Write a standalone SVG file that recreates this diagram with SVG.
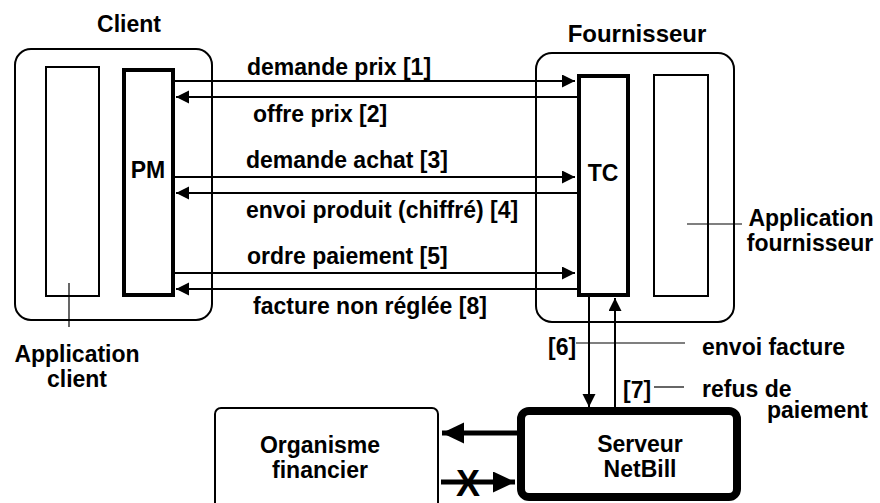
<svg xmlns="http://www.w3.org/2000/svg" width="880" height="503" viewBox="0 0 880 503">
<style>
text{font-family:"Liberation Sans",Arial,sans-serif;font-weight:bold;font-size:23px;fill:#000}
.mid{text-anchor:middle}
.box{fill:#fff;stroke:#000;stroke-width:2}
.thick{fill:#fff;stroke:#000;stroke-width:4}
.ln{stroke:#000;stroke-width:2;fill:none}
.thin{stroke:#000;stroke-width:1.2;fill:none}
.big{stroke:#000;stroke-width:5;fill:none}
</style>
<defs>
<marker id="ah" markerUnits="userSpaceOnUse" markerWidth="14" markerHeight="14" refX="13" refY="6.5" orient="auto">
<path d="M0,0 L13,6.5 L0,13 Z" fill="#000"/>
</marker>
<marker id="ahb" markerUnits="userSpaceOnUse" markerWidth="24" markerHeight="22" refX="22" refY="10.5" orient="auto">
<path d="M0,0 L22,10.5 L0,21 Z" fill="#000"/>
</marker>
</defs>
<rect width="880" height="503" fill="#fff"/>

<g id="client">
<text class="mid" x="129" y="32">Client</text>
<rect class="box" x="15" y="49" width="197" height="271" rx="16"/>
</g>
<g id="fournisseur">
<text class="mid" x="637" y="42" style="font-size:24px">Fournisseur</text>
<rect class="box" x="536" y="53" width="198" height="269" rx="16"/>
</g>
<g id="app-client">
<rect class="box" x="46" y="67" width="53" height="229"/>
<line class="thin" x1="69" y1="283" x2="69" y2="327"/>
<text class="mid" x="77" y="362">Application</text>
<text class="mid" x="77" y="387">client</text>
</g>
<g id="pm">
<rect class="thick" x="124" y="70" width="49" height="225"/>
<text class="mid" x="148" y="178">PM</text>
</g>
<g id="tc">
<rect class="thick" x="579" y="76" width="49" height="219"/>
<text class="mid" x="603" y="181">TC</text>
</g>
<g id="app-fournisseur">
<rect class="box" x="654" y="75" width="54" height="221"/>
<line class="thin" x1="687" y1="224" x2="742" y2="224"/>
<text class="mid" x="811" y="226">Application</text>
<text class="mid" x="810" y="251">fournisseur</text>
</g>
<g id="organisme">
<rect class="box" x="215" y="408" width="223" height="110" rx="6"/>
<text class="mid" x="320" y="453">Organisme</text>
<text class="mid" x="320" y="478">financier</text>
</g>
<g id="serveur">
<rect x="521" y="411" width="216" height="86" rx="8" fill="#fff" stroke="#000" stroke-width="8"/>
<text class="mid" x="640" y="452">Serveur</text>
<text class="mid" x="640" y="477">NetBill</text>
</g>

<g id="connectors">
<line class="ln" x1="175" y1="81" x2="575" y2="81" marker-end="url(#ah)"/>
<line class="ln" x1="577" y1="97" x2="176" y2="97" marker-end="url(#ah)"/>
<line class="ln" x1="175" y1="177" x2="575" y2="177" marker-end="url(#ah)"/>
<line class="ln" x1="577" y1="193" x2="176" y2="193" marker-end="url(#ah)"/>
<line class="ln" x1="175" y1="273" x2="575" y2="273" marker-end="url(#ah)"/>
<line class="ln" x1="577" y1="289" x2="176" y2="289" marker-end="url(#ah)"/>
<line class="ln" x1="589" y1="297" x2="589" y2="407" marker-end="url(#ah)"/>
<line class="ln" x1="615" y1="407" x2="615" y2="298" marker-end="url(#ah)"/>
<line class="big" x1="517" y1="433" x2="442" y2="433" marker-end="url(#ahb)"/>
<line class="big" x1="441" y1="482" x2="515" y2="482" marker-end="url(#ahb)"/>
<line class="thin" x1="576" y1="343" x2="685" y2="343"/>
<line class="thin" x1="654" y1="387" x2="684" y2="387"/>
</g>

<g id="labels">
<text x="247" y="75">demande prix [1]</text>
<text x="253" y="122">offre prix [2]</text>
<text x="246" y="168">demande achat [3]</text>
<text x="246" y="218">envoi produit (chiffré) [4]</text>
<text x="247" y="264">ordre paiement [5]</text>
<text x="253" y="314">facture non réglée [8]</text>
<text x="548" y="355">[6]</text>
<text x="702" y="355">envoi facture</text>
<text x="623" y="398">[7]</text>
<text x="702" y="397">refus de</text>
<text x="767" y="418">paiement</text>
<text class="mid" x="468" y="496" style="font-size:36px">X</text>
</g>
</svg>
